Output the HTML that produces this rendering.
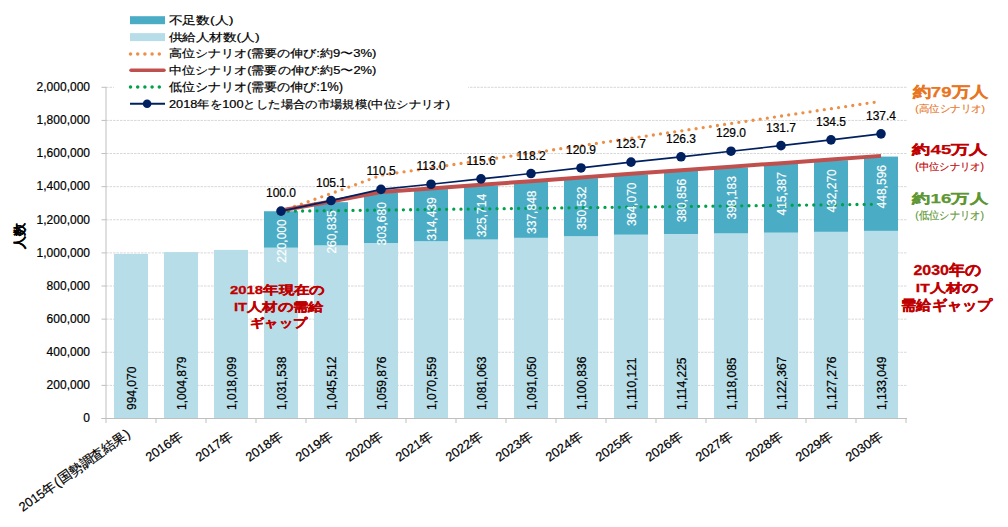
<!DOCTYPE html>
<html><head><meta charset="utf-8"><style>
html,body{margin:0;padding:0;background:#fff;width:1008px;height:527px;overflow:hidden}
svg{display:block;font-family:"Liberation Sans", sans-serif}
text[fill="#000"]{stroke:#000;stroke-width:0.2px}
text[fill="#fff"]{stroke:#fff;stroke-width:0.15px}
</style></head><body>
<svg width="1008" height="527" viewBox="0 0 1008 527">
<line x1="106" y1="385.38" x2="907" y2="385.38" stroke="#d8d8d8" stroke-width="1" stroke-dasharray="2.5 1"/>
<line x1="106" y1="352.26" x2="907" y2="352.26" stroke="#d8d8d8" stroke-width="1" stroke-dasharray="2.5 1"/>
<line x1="106" y1="319.14" x2="907" y2="319.14" stroke="#d8d8d8" stroke-width="1" stroke-dasharray="2.5 1"/>
<line x1="106" y1="286.02" x2="907" y2="286.02" stroke="#d8d8d8" stroke-width="1" stroke-dasharray="2.5 1"/>
<line x1="106" y1="252.90" x2="907" y2="252.90" stroke="#d8d8d8" stroke-width="1" stroke-dasharray="2.5 1"/>
<line x1="106" y1="219.78" x2="907" y2="219.78" stroke="#d8d8d8" stroke-width="1" stroke-dasharray="2.5 1"/>
<line x1="106" y1="186.66" x2="907" y2="186.66" stroke="#d8d8d8" stroke-width="1" stroke-dasharray="2.5 1"/>
<line x1="106" y1="153.54" x2="907" y2="153.54" stroke="#d8d8d8" stroke-width="1" stroke-dasharray="2.5 1"/>
<line x1="106" y1="120.42" x2="907" y2="120.42" stroke="#d8d8d8" stroke-width="1" stroke-dasharray="2.5 1"/>
<line x1="106" y1="87.30" x2="907" y2="87.30" stroke="#d8d8d8" stroke-width="1" stroke-dasharray="2.5 1"/>
<text x="90" y="422.30" text-anchor="end" font-size="12" fill="#000">0</text>
<line x1="101.5" y1="418.50" x2="106" y2="418.50" stroke="#bfbfbf" stroke-width="1"/>
<text x="90" y="389.18" text-anchor="end" font-size="12" fill="#000">200,000</text>
<line x1="101.5" y1="385.38" x2="106" y2="385.38" stroke="#bfbfbf" stroke-width="1"/>
<text x="90" y="356.06" text-anchor="end" font-size="12" fill="#000">400,000</text>
<line x1="101.5" y1="352.26" x2="106" y2="352.26" stroke="#bfbfbf" stroke-width="1"/>
<text x="90" y="322.94" text-anchor="end" font-size="12" fill="#000">600,000</text>
<line x1="101.5" y1="319.14" x2="106" y2="319.14" stroke="#bfbfbf" stroke-width="1"/>
<text x="90" y="289.82" text-anchor="end" font-size="12" fill="#000">800,000</text>
<line x1="101.5" y1="286.02" x2="106" y2="286.02" stroke="#bfbfbf" stroke-width="1"/>
<text x="90" y="256.70" text-anchor="end" font-size="12" fill="#000">1,000,000</text>
<line x1="101.5" y1="252.90" x2="106" y2="252.90" stroke="#bfbfbf" stroke-width="1"/>
<text x="90" y="223.58" text-anchor="end" font-size="12" fill="#000">1,200,000</text>
<line x1="101.5" y1="219.78" x2="106" y2="219.78" stroke="#bfbfbf" stroke-width="1"/>
<text x="90" y="190.46" text-anchor="end" font-size="12" fill="#000">1,400,000</text>
<line x1="101.5" y1="186.66" x2="106" y2="186.66" stroke="#bfbfbf" stroke-width="1"/>
<text x="90" y="157.34" text-anchor="end" font-size="12" fill="#000">1,600,000</text>
<line x1="101.5" y1="153.54" x2="106" y2="153.54" stroke="#bfbfbf" stroke-width="1"/>
<text x="90" y="124.22" text-anchor="end" font-size="12" fill="#000">1,800,000</text>
<line x1="101.5" y1="120.42" x2="106" y2="120.42" stroke="#bfbfbf" stroke-width="1"/>
<text x="90" y="91.10" text-anchor="end" font-size="12" fill="#000">2,000,000</text>
<line x1="101.5" y1="87.30" x2="106" y2="87.30" stroke="#bfbfbf" stroke-width="1"/>
<rect x="114.00" y="253.88" width="34" height="164.62" fill="#b7dee8"/>
<rect x="164.00" y="252.09" width="34" height="166.41" fill="#b7dee8"/>
<rect x="214.00" y="249.90" width="34" height="168.60" fill="#b7dee8"/>
<rect x="264.00" y="247.68" width="34" height="170.82" fill="#b7dee8"/>
<rect x="264.00" y="211.25" width="34" height="36.43" fill="#4bacc6"/>
<rect x="314.00" y="245.36" width="34" height="173.14" fill="#b7dee8"/>
<rect x="314.00" y="202.17" width="34" height="43.19" fill="#4bacc6"/>
<rect x="364.00" y="242.98" width="34" height="175.52" fill="#b7dee8"/>
<rect x="364.00" y="192.70" width="34" height="50.29" fill="#4bacc6"/>
<rect x="414.00" y="241.22" width="34" height="177.28" fill="#b7dee8"/>
<rect x="414.00" y="189.14" width="34" height="52.07" fill="#4bacc6"/>
<rect x="464.00" y="239.48" width="34" height="179.02" fill="#b7dee8"/>
<rect x="464.00" y="185.54" width="34" height="53.94" fill="#4bacc6"/>
<rect x="514.00" y="237.82" width="34" height="180.68" fill="#b7dee8"/>
<rect x="514.00" y="181.87" width="34" height="55.95" fill="#4bacc6"/>
<rect x="564.00" y="236.20" width="34" height="182.30" fill="#b7dee8"/>
<rect x="564.00" y="178.15" width="34" height="58.05" fill="#4bacc6"/>
<rect x="614.00" y="234.66" width="34" height="183.84" fill="#b7dee8"/>
<rect x="614.00" y="174.37" width="34" height="60.29" fill="#4bacc6"/>
<rect x="664.00" y="233.98" width="34" height="184.52" fill="#b7dee8"/>
<rect x="664.00" y="170.91" width="34" height="63.07" fill="#4bacc6"/>
<rect x="714.00" y="233.35" width="34" height="185.15" fill="#b7dee8"/>
<rect x="714.00" y="167.41" width="34" height="65.94" fill="#4bacc6"/>
<rect x="764.00" y="232.64" width="34" height="185.86" fill="#b7dee8"/>
<rect x="764.00" y="163.85" width="34" height="68.79" fill="#4bacc6"/>
<rect x="814.00" y="231.82" width="34" height="186.68" fill="#b7dee8"/>
<rect x="814.00" y="160.24" width="34" height="71.58" fill="#4bacc6"/>
<rect x="864.00" y="230.87" width="34" height="187.63" fill="#b7dee8"/>
<rect x="864.00" y="156.58" width="34" height="74.29" fill="#4bacc6"/>
<line x1="106" y1="87" x2="106" y2="419" stroke="#bfbfbf" stroke-width="1"/>
<line x1="101.5" y1="418.5" x2="907" y2="418.5" stroke="#bfbfbf" stroke-width="1"/>
<line x1="106.0" y1="418.5" x2="106.0" y2="423" stroke="#bfbfbf" stroke-width="1"/>
<line x1="156.0" y1="418.5" x2="156.0" y2="423" stroke="#bfbfbf" stroke-width="1"/>
<line x1="206.0" y1="418.5" x2="206.0" y2="423" stroke="#bfbfbf" stroke-width="1"/>
<line x1="256.0" y1="418.5" x2="256.0" y2="423" stroke="#bfbfbf" stroke-width="1"/>
<line x1="306.0" y1="418.5" x2="306.0" y2="423" stroke="#bfbfbf" stroke-width="1"/>
<line x1="356.0" y1="418.5" x2="356.0" y2="423" stroke="#bfbfbf" stroke-width="1"/>
<line x1="406.0" y1="418.5" x2="406.0" y2="423" stroke="#bfbfbf" stroke-width="1"/>
<line x1="456.0" y1="418.5" x2="456.0" y2="423" stroke="#bfbfbf" stroke-width="1"/>
<line x1="506.0" y1="418.5" x2="506.0" y2="423" stroke="#bfbfbf" stroke-width="1"/>
<line x1="556.0" y1="418.5" x2="556.0" y2="423" stroke="#bfbfbf" stroke-width="1"/>
<line x1="606.0" y1="418.5" x2="606.0" y2="423" stroke="#bfbfbf" stroke-width="1"/>
<line x1="656.0" y1="418.5" x2="656.0" y2="423" stroke="#bfbfbf" stroke-width="1"/>
<line x1="706.0" y1="418.5" x2="706.0" y2="423" stroke="#bfbfbf" stroke-width="1"/>
<line x1="756.0" y1="418.5" x2="756.0" y2="423" stroke="#bfbfbf" stroke-width="1"/>
<line x1="806.0" y1="418.5" x2="806.0" y2="423" stroke="#bfbfbf" stroke-width="1"/>
<line x1="856.0" y1="418.5" x2="856.0" y2="423" stroke="#bfbfbf" stroke-width="1"/>
<line x1="906.0" y1="418.5" x2="906.0" y2="423" stroke="#bfbfbf" stroke-width="1"/>
<polyline points="281.00,211.25 331.00,193.60 381.00,175.20 431.00,167.90 481.00,160.50 531.00,153.10 581.00,145.70 631.00,138.30 681.00,130.90 731.00,123.50 781.00,116.10 831.00,108.70 881.00,101.30" fill="none" stroke="#ec8f48" stroke-width="3.3" stroke-linecap="round" stroke-dasharray="0 7.2"/>
<polyline points="281.00,211.25 331.00,210.66 381.00,210.08 431.00,209.49 481.00,208.90 531.00,208.31 581.00,207.73 631.00,207.14 681.00,206.55 731.00,205.97 781.00,205.38 831.00,204.79 881.00,204.21" fill="none" stroke="#00a04c" stroke-width="3.3" stroke-linecap="round" stroke-dasharray="0 7.2"/>
<polyline points="281.00,210.55 331.00,201.47 381.00,192.00 431.00,188.44 481.00,184.84 531.00,181.17 581.00,177.45 631.00,173.67 681.00,170.21 731.00,166.71 781.00,163.15 831.00,159.54 881.00,155.88" fill="none" stroke="#c0504d" stroke-width="4" stroke-linecap="butt"/>
<polyline points="281.00,211.10 331.00,200.57 381.00,189.42 431.00,184.25 481.00,178.89 531.00,173.52 581.00,167.94 631.00,162.16 681.00,156.79 731.00,151.22 781.00,145.64 831.00,139.86 881.00,133.87" fill="none" stroke="#002060" stroke-width="1.7"/>
<circle cx="281.00" cy="211.10" r="4.8" fill="#002060"/>
<text x="281.00" y="197.10" text-anchor="middle" font-size="12" fill="#000">100.0</text>
<circle cx="331.00" cy="200.57" r="4.8" fill="#002060"/>
<text x="331.00" y="186.57" text-anchor="middle" font-size="12" fill="#000">105.1</text>
<circle cx="381.00" cy="189.42" r="4.8" fill="#002060"/>
<text x="381.00" y="175.42" text-anchor="middle" font-size="12" fill="#000">110.5</text>
<circle cx="431.00" cy="184.25" r="4.8" fill="#002060"/>
<text x="431.00" y="170.25" text-anchor="middle" font-size="12" fill="#000">113.0</text>
<circle cx="481.00" cy="178.89" r="4.8" fill="#002060"/>
<text x="481.00" y="164.89" text-anchor="middle" font-size="12" fill="#000">115.6</text>
<circle cx="531.00" cy="173.52" r="4.8" fill="#002060"/>
<text x="531.00" y="159.52" text-anchor="middle" font-size="12" fill="#000">118.2</text>
<circle cx="581.00" cy="167.94" r="4.8" fill="#002060"/>
<text x="581.00" y="153.94" text-anchor="middle" font-size="12" fill="#000">120.9</text>
<circle cx="631.00" cy="162.16" r="4.8" fill="#002060"/>
<text x="631.00" y="148.16" text-anchor="middle" font-size="12" fill="#000">123.7</text>
<circle cx="681.00" cy="156.79" r="4.8" fill="#002060"/>
<text x="681.00" y="142.79" text-anchor="middle" font-size="12" fill="#000">126.3</text>
<circle cx="731.00" cy="151.22" r="4.8" fill="#002060"/>
<text x="731.00" y="137.22" text-anchor="middle" font-size="12" fill="#000">129.0</text>
<circle cx="781.00" cy="145.64" r="4.8" fill="#002060"/>
<text x="781.00" y="131.64" text-anchor="middle" font-size="12" fill="#000">131.7</text>
<circle cx="831.00" cy="139.86" r="4.8" fill="#002060"/>
<text x="831.00" y="125.86" text-anchor="middle" font-size="12" fill="#000">134.5</text>
<circle cx="881.00" cy="133.87" r="4.8" fill="#002060"/>
<text x="881.00" y="119.87" text-anchor="middle" font-size="12" fill="#000">137.4</text>
<text transform="translate(135.60,410) rotate(-90)" font-size="12" fill="#000">994,070</text>
<text transform="translate(185.60,410) rotate(-90)" font-size="12" fill="#000">1,004,879</text>
<text transform="translate(235.60,410) rotate(-90)" font-size="12" fill="#000">1,018,099</text>
<text transform="translate(285.60,410) rotate(-90)" font-size="12" fill="#000">1,031,538</text>
<text transform="translate(335.60,410) rotate(-90)" font-size="12" fill="#000">1,045,512</text>
<text transform="translate(385.60,410) rotate(-90)" font-size="12" fill="#000">1,059,876</text>
<text transform="translate(435.60,410) rotate(-90)" font-size="12" fill="#000">1,070,559</text>
<text transform="translate(485.60,410) rotate(-90)" font-size="12" fill="#000">1,081,063</text>
<text transform="translate(535.60,410) rotate(-90)" font-size="12" fill="#000">1,091,050</text>
<text transform="translate(585.60,410) rotate(-90)" font-size="12" fill="#000">1,100,836</text>
<text transform="translate(635.60,410) rotate(-90)" font-size="12" fill="#000">1,110,121</text>
<text transform="translate(685.60,410) rotate(-90)" font-size="12" fill="#000">1,114,225</text>
<text transform="translate(735.60,410) rotate(-90)" font-size="12" fill="#000">1,118,085</text>
<text transform="translate(785.60,410) rotate(-90)" font-size="12" fill="#000">1,122,367</text>
<text transform="translate(835.60,410) rotate(-90)" font-size="12" fill="#000">1,127,276</text>
<text transform="translate(885.60,410) rotate(-90)" font-size="12" fill="#000">1,133,049</text>
<text transform="translate(285.60,262.70) rotate(-90)" font-size="12" fill="#fff">220,000</text>
<text transform="translate(335.60,253.60) rotate(-90)" font-size="12" fill="#fff">260,835</text>
<text transform="translate(385.60,245.50) rotate(-90)" font-size="12" fill="#fff">303,680</text>
<text transform="translate(435.60,240.70) rotate(-90)" font-size="12" fill="#fff">314,439</text>
<text transform="translate(485.60,237.30) rotate(-90)" font-size="12" fill="#fff">325,714</text>
<text transform="translate(535.60,233.90) rotate(-90)" font-size="12" fill="#fff">337,848</text>
<text transform="translate(585.60,229.90) rotate(-90)" font-size="12" fill="#fff">350,532</text>
<text transform="translate(635.60,225.90) rotate(-90)" font-size="12" fill="#fff">364,070</text>
<text transform="translate(685.60,222.30) rotate(-90)" font-size="12" fill="#fff">380,856</text>
<text transform="translate(735.60,219.50) rotate(-90)" font-size="12" fill="#fff">398,183</text>
<text transform="translate(785.60,215.50) rotate(-90)" font-size="12" fill="#fff">415,387</text>
<text transform="translate(835.60,212.60) rotate(-90)" font-size="12" fill="#fff">432,270</text>
<text transform="translate(885.60,208.40) rotate(-90)" font-size="12" fill="#fff">448,596</text>
<text transform="translate(131.20,436.00) rotate(-35)" text-anchor="end" fill="#000"><tspan font-size="12.8">2015</tspan><tspan font-size="13.4">年</tspan><tspan font-size="13.4" dx="1.2">(</tspan><tspan font-size="13.4" dx="1.2">国勢調査結果</tspan><tspan font-size="13.4" dx="1.6">)</tspan></text>
<text transform="translate(183.40,438.2) rotate(-35)" text-anchor="end" fill="#000"><tspan font-size="12.8">2016</tspan><tspan font-size="13.4">年</tspan></text>
<text transform="translate(233.40,438.2) rotate(-35)" text-anchor="end" fill="#000"><tspan font-size="12.8">2017</tspan><tspan font-size="13.4">年</tspan></text>
<text transform="translate(283.40,438.2) rotate(-35)" text-anchor="end" fill="#000"><tspan font-size="12.8">2018</tspan><tspan font-size="13.4">年</tspan></text>
<text transform="translate(333.40,438.2) rotate(-35)" text-anchor="end" fill="#000"><tspan font-size="12.8">2019</tspan><tspan font-size="13.4">年</tspan></text>
<text transform="translate(383.40,438.2) rotate(-35)" text-anchor="end" fill="#000"><tspan font-size="12.8">2020</tspan><tspan font-size="13.4">年</tspan></text>
<text transform="translate(433.40,438.2) rotate(-35)" text-anchor="end" fill="#000"><tspan font-size="12.8">2021</tspan><tspan font-size="13.4">年</tspan></text>
<text transform="translate(483.40,438.2) rotate(-35)" text-anchor="end" fill="#000"><tspan font-size="12.8">2022</tspan><tspan font-size="13.4">年</tspan></text>
<text transform="translate(533.40,438.2) rotate(-35)" text-anchor="end" fill="#000"><tspan font-size="12.8">2023</tspan><tspan font-size="13.4">年</tspan></text>
<text transform="translate(583.40,438.2) rotate(-35)" text-anchor="end" fill="#000"><tspan font-size="12.8">2024</tspan><tspan font-size="13.4">年</tspan></text>
<text transform="translate(633.40,438.2) rotate(-35)" text-anchor="end" fill="#000"><tspan font-size="12.8">2025</tspan><tspan font-size="13.4">年</tspan></text>
<text transform="translate(683.40,438.2) rotate(-35)" text-anchor="end" fill="#000"><tspan font-size="12.8">2026</tspan><tspan font-size="13.4">年</tspan></text>
<text transform="translate(733.40,438.2) rotate(-35)" text-anchor="end" fill="#000"><tspan font-size="12.8">2027</tspan><tspan font-size="13.4">年</tspan></text>
<text transform="translate(783.40,438.2) rotate(-35)" text-anchor="end" fill="#000"><tspan font-size="12.8">2028</tspan><tspan font-size="13.4">年</tspan></text>
<text transform="translate(833.40,438.2) rotate(-35)" text-anchor="end" fill="#000"><tspan font-size="12.8">2029</tspan><tspan font-size="13.4">年</tspan></text>
<text transform="translate(883.40,438.2) rotate(-35)" text-anchor="end" fill="#000"><tspan font-size="12.8">2030</tspan><tspan font-size="13.4">年</tspan></text>
<text transform="translate(24,235.5) rotate(-90)" text-anchor="middle" font-size="13" font-weight="bold" fill="#000">人数</text>
<rect x="114" y="4" width="354" height="110" fill="#fff"/>
<rect x="130" y="16.20" width="35" height="8" fill="#4bacc6"/>
<rect x="130" y="33.10" width="35" height="8" fill="#b7dee8"/>
<line x1="130.5" y1="53.9" x2="162" y2="53.9" stroke="#ec8f48" stroke-width="3.5" stroke-linecap="round" stroke-dasharray="0 7.2"/>
<line x1="131" y1="70.2" x2="164" y2="70.2" stroke="#c0504d" stroke-width="3.5" stroke-linecap="round"/>
<line x1="130.5" y1="87.0" x2="162" y2="87.0" stroke="#00a04c" stroke-width="3.5" stroke-linecap="round" stroke-dasharray="0 7.2"/>
<line x1="130" y1="103.8" x2="165" y2="103.8" stroke="#002060" stroke-width="2"/>
<circle cx="147.1" cy="103.8" r="4.3" fill="#002060"/>
<text id="L1" x="168.60" y="23.50" font-size="11.36" font-weight="normal" fill="#000" stroke="#000" stroke-width="0.2" textLength="64.82" lengthAdjust="spacingAndGlyphs">不足数(人)</text>
<text id="L2" x="168.60" y="40.55" font-size="11.36" font-weight="normal" fill="#000" stroke="#000" stroke-width="0.2" textLength="91.01" lengthAdjust="spacingAndGlyphs">供給人材数(人)</text>
<text id="L3" x="169.00" y="57.45" font-size="11.05" font-weight="normal" fill="#000" stroke="#000" stroke-width="0.2" textLength="207.40" lengthAdjust="spacingAndGlyphs">高位シナリオ(需要の伸び:約9〜3%)</text>
<text id="L4" x="169.00" y="73.65" font-size="10.92" font-weight="normal" fill="#000" stroke="#000" stroke-width="0.2" textLength="207.40" lengthAdjust="spacingAndGlyphs">中位シナリオ(需要の伸び:約5〜2%)</text>
<text id="L5" x="169.00" y="90.80" font-size="11.99" font-weight="normal" fill="#000" stroke="#000" stroke-width="0.2" textLength="174.00" lengthAdjust="spacingAndGlyphs">低位シナリオ(需要の伸び:1%)</text>
<text id="L6" x="169.00" y="107.75" font-size="11.36" font-weight="normal" fill="#000" stroke="#000" stroke-width="0.2" textLength="281.00" lengthAdjust="spacingAndGlyphs">2018年を100とした場合の市場規模(中位シナリオ)</text>
<text id="A1" x="912.60" y="96.95" font-size="15.33" font-weight="bold" fill="#e8751f" stroke="#e8751f" stroke-width="0.25" textLength="75.42" lengthAdjust="spacingAndGlyphs">約79万人</text>
<text id="A2" x="915.20" y="112.40" font-size="9.97" font-weight="normal" fill="#e8751f" stroke="#e8751f" stroke-width="0.15" textLength="69.83" lengthAdjust="spacingAndGlyphs">(高位シナリオ)</text>
<text id="A3" x="912.40" y="154.05" font-size="13.47" font-weight="bold" fill="#c00000" stroke="#c00000" stroke-width="0.25" textLength="75.22" lengthAdjust="spacingAndGlyphs">約45万人</text>
<text id="A4" x="915.20" y="169.70" font-size="10.18" font-weight="normal" fill="#c00000" stroke="#c00000" stroke-width="0.15" textLength="68.82" lengthAdjust="spacingAndGlyphs">(中位シナリオ)</text>
<text id="A5" x="912.40" y="202.95" font-size="13.47" font-weight="bold" fill="#5e9732" stroke="#5e9732" stroke-width="0.25" textLength="75.25" lengthAdjust="spacingAndGlyphs">約16万人</text>
<text id="A6" x="915.20" y="219.45" font-size="11.33" font-weight="normal" fill="#5e9732" stroke="#5e9732" stroke-width="0.15" textLength="68.82" lengthAdjust="spacingAndGlyphs">(低位シナリオ)</text>
<text id="A7" x="913.40" y="275.05" font-size="14.98" font-weight="bold" fill="#c00000" stroke="#c00000" stroke-width="0.3" textLength="67.61" lengthAdjust="spacingAndGlyphs">2030年の</text>
<text id="A8" x="915.80" y="291.85" font-size="11.58" font-weight="bold" fill="#c00000" stroke="#c00000" stroke-width="0.3" textLength="62.42" lengthAdjust="spacingAndGlyphs">IT人材の</text>
<text id="A9" x="901.40" y="310.15" font-size="13.64" font-weight="bold" fill="#c00000" stroke="#c00000" stroke-width="0.3" textLength="90.62" lengthAdjust="spacingAndGlyphs">需給ギャップ</text>
<text id="A10" x="230.00" y="293.55" font-size="11.58" font-weight="bold" fill="#c00000" stroke="#c00000" stroke-width="0.3" textLength="94.82" lengthAdjust="spacingAndGlyphs">2018年現在の</text>
<text id="A11" x="234.00" y="310.95" font-size="11.58" font-weight="bold" fill="#c00000" stroke="#c00000" stroke-width="0.3" textLength="89.84" lengthAdjust="spacingAndGlyphs">IT人材の需給</text>
<text id="A12" x="250.20" y="327.15" font-size="11.58" font-weight="bold" fill="#c00000" stroke="#c00000" stroke-width="0.3" textLength="56.67" lengthAdjust="spacingAndGlyphs">ギャップ</text>
</svg>
</body></html>
